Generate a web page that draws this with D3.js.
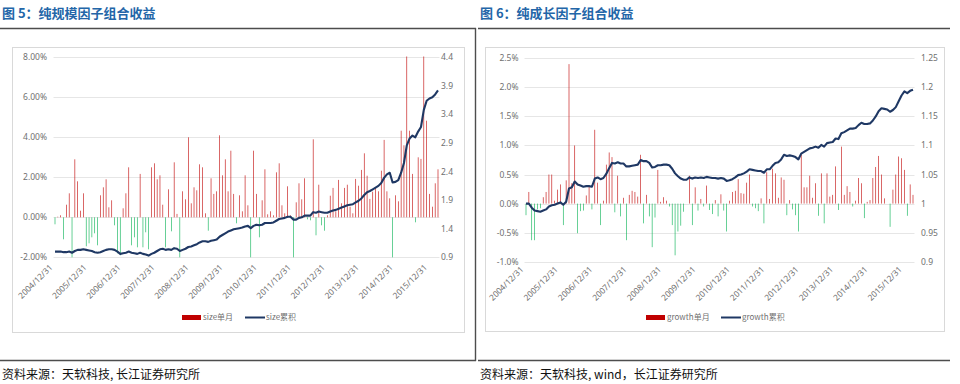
<!DOCTYPE html>
<html>
<head>
<meta charset="utf-8">
<script src="https://cdn.jsdelivr.net/npm/d3@7"></script>
<style>
  body { margin: 0; background: #fff; }
  svg { display: block; }
</style>
</head>
<body>
<svg id="chart" width="960" height="384"></svg>
<script>
// Data: month-end points from 2004/12/31, one label every 12 months
const tickLabels = ['2004/12/31', '2005/12/31', '2006/12/31', '2007/12/31', '2008/12/31', '2009/12/31',
  '2010/12/31', '2011/12/31', '2012/12/31', '2013/12/31', '2014/12/31', '2015/12/31'];

// size factor, monthly return (%)
const sizeMonthly = [
  -0.35, 0.03, 0.1, -1.1, 0.63, 1.2, -2.0, 2.9, 1.8, 0.33, 1.2, -1.45,
  -1.3, -1.0, -0.8, -1.4, 1.1, 1.5, 1.9, 0.5, 0.85, -0.4, -1.8, -1.9,
  0.45, 1.2, 2.5, -1.4, -1.0, -1.5, 2.17, -1.5, -0.75, -1.6, 2.5, 2.7,
  1.9, 2.1, 0.63, -1.5, 1.4, -0.7, 2.75, 0.17, -2.0, 1.3, 0.9, 4.0,
  0.7, 1.5, 1.35, 2.65, 2.5, 0.2, -0.67, 1.95, 1.17, 1.3, 4.1, 2.1,
  2.9, 1.3, 3.33, 1.17, -0.3, 1.1, 0.3, 2.1, 0.6, -2.0, 3.33, 1.17,
  -1.0, 0.85, 2.4, 0.15, 0.3, 0.1, 2.25, 2.7, 0.6, 0.2, 1.55, 0.1,
  -2.0, 0.75, 1.7, 0.9, 1.95, -0.1, -0.15, 3.9, -0.9, 1.63, -0.4, -0.67,
  0.1, 1.08, 1.47, 0.3, 1.87, 0.7, 1.47, 1.63, 0.53, 0.2, 1.92, 1.58,
  2.37, 3.2, 2.08, 0.92, 1.28, 1.5, 1.3, 2.33, 3.87, 1.3, 0.95, -2.0,
  1.1, 0.8, 4.33, 3.6, 8.05, 4.33, 2.17, -0.25, 3.0, 2.92, 8.05, 4.83,
  1.17, 0.53, 1.7, 2.4
];

// size factor, cumulative value
const sizeCum = [
  1.00, 1.00, 1.00, 0.99, 0.99, 1.00, 0.98, 1.01, 1.03, 1.03, 1.04, 1.03,
  1.02, 1.01, 0.99, 0.98, 0.99, 1.01, 1.03, 1.04, 1.04, 1.03, 1.00, 0.96,
  0.97, 0.98, 1.00, 0.98, 0.97, 0.96, 0.98, 0.96, 0.95, 0.93, 0.96, 0.98,
  1.01, 1.04, 1.05, 1.03, 1.04, 1.03, 1.06, 1.05, 1.01, 1.03, 1.05, 1.08,
  1.09, 1.11, 1.13, 1.16, 1.18, 1.18, 1.17, 1.19, 1.20, 1.21, 1.26, 1.29,
  1.32, 1.35, 1.37, 1.39, 1.40, 1.41, 1.42, 1.44, 1.45, 1.41, 1.45, 1.47,
  1.46, 1.47, 1.50, 1.50, 1.50, 1.51, 1.54, 1.57, 1.58, 1.59, 1.61, 1.61,
  1.56, 1.56, 1.59, 1.60, 1.63, 1.63, 1.63, 1.69, 1.68, 1.70, 1.69, 1.68,
  1.68, 1.70, 1.72, 1.73, 1.75, 1.77, 1.79, 1.81, 1.82, 1.83, 1.86, 1.89,
  1.93, 1.99, 2.04, 2.06, 2.09, 2.12, 2.15, 2.20, 2.29, 2.35, 2.38, 2.21,
  2.22, 2.25, 2.38, 2.55, 2.86, 2.98, 3.03, 3.00, 3.10, 3.18, 3.48, 3.64,
  3.68, 3.70, 3.75, 3.82
];

// growth factor, monthly return (%)
const growthMonthly = [
  -0.2, 0.2, -0.63, -0.63, -0.1, -0.08, 0.11, 0.2, 0.5, 0.5, 0.05, 0.24,
  0.33, -0.37, 0.4, 2.4, 0.35, 1.0, -0.51, -0.13, -0.12, 0.14, 0.29, -0.1,
  1.27, 0.36, -0.37, 0.05, 0.67, 0.88, 0.8, -0.15, 0.48, -0.22, 0.1, -0.63,
  0.15, 0.22, 0.2, 0.12, 0.84, -0.34, 0.15, -0.22, -0.75, -0.24, 0.58, 0.03,
  0.11, 0.05, -0.05, -0.37, -0.89, -0.48, -0.38, -0.14, 0.0, 0.48, -0.37, 0.28,
  -0.12, 0.08, -0.05, 0.31, -0.11, -0.18, 0.06, -0.22, 0.16, -0.12, -0.48, 0.05,
  0.2, 0.22, 0.42, 0.18, 0.17, 0.36, 0.5, -0.05, -0.08, -0.13, 0.09, -0.34,
  0.54, 0.08, 0.6, 0.52, 0.1, 0.45, 0.41, -0.2, 0.06, -0.1, -0.2, -0.48,
  0.84, 0.28, 0.28, 0.48, 0.1, 0.35, -0.21, 0.52, -0.34, 0.52, 0.12, 0.15,
  0.64, -0.11, 0.98, 0.15, 0.3, 0.2, -0.05, 0.05, 0.44, 0.35, -0.25, 0.03,
  0.06, 0.44, 0.63, 0.82, 0.5, 0.09, 0.0, -0.4, 0.24, 0.5, 0.81, 0.78,
  0.58, -0.21, 0.33, 0.15
];

// growth factor, cumulative value
const growthCum = [
  1.000, 1.000, 0.993, 0.988, 0.987, 0.986, 0.988, 0.990, 0.995, 0.997, 0.998, 1.000,
  1.002, 0.998, 1.003, 1.026, 1.028, 1.038, 1.033, 1.031, 1.029, 1.030, 1.030, 1.029,
  1.043, 1.045, 1.042, 1.044, 1.051, 1.061, 1.070, 1.069, 1.071, 1.069, 1.069, 1.064,
  1.064, 1.065, 1.066, 1.067, 1.075, 1.073, 1.073, 1.070, 1.062, 1.063, 1.066, 1.066,
  1.067, 1.067, 1.066, 1.060, 1.052, 1.047, 1.043, 1.041, 1.041, 1.045, 1.043, 1.045,
  1.044, 1.045, 1.044, 1.046, 1.045, 1.044, 1.044, 1.043, 1.044, 1.043, 1.039, 1.040,
  1.042, 1.045, 1.049, 1.050, 1.052, 1.055, 1.059, 1.058, 1.057, 1.056, 1.056, 1.053,
  1.059, 1.059, 1.065, 1.070, 1.071, 1.076, 1.084, 1.082, 1.083, 1.082, 1.080, 1.076,
  1.086, 1.089, 1.092, 1.095, 1.096, 1.098, 1.096, 1.101, 1.098, 1.104, 1.105, 1.106,
  1.112, 1.111, 1.121, 1.123, 1.126, 1.129, 1.129, 1.130, 1.135, 1.139, 1.137, 1.137,
  1.138, 1.143, 1.150, 1.159, 1.164, 1.163, 1.162, 1.158, 1.161, 1.166, 1.176, 1.186,
  1.193, 1.190, 1.194, 1.196
];

// axis ticks
const sizeLeftTicks = [-2, 0, 2, 4, 6, 8];
const sizeRightTicks = [0.9, 1.4, 1.9, 2.4, 2.9, 3.4, 3.9, 4.4];
const growthLeftTicks = [-1, -0.5, 0, 0.5, 1, 1.5, 2, 2.5];
const growthRightTicks = [0.9, 0.95, 1, 1.05, 1.1, 1.15, 1.2, 1.25];

// Constants
const cjk = '"Noto Sans CJK SC", "Noto Sans", sans-serif';
const latin = '"Noto Sans", "Open Sans", sans-serif';
const red = '#c00000';
const green = '#00b050';
const navy = '#1f3864';
const labelColor = '#707070';

const svg = d3.select('#chart');

const panels = [
  {
    title: '图 5：纯规模因子组合收益',
    source: '资料来源：天软科技, 长江证券研究所',
    left: 0, right: 475,
    frame: { x0: 12.5, y0: 47.5, x1: 464.5, y1: 332.5 },
    xRange: [55, 438],
    yTop: 57.3, yBottom: 257.3,
    monthly: sizeMonthly, cum: sizeCum,
    leftTicks: sizeLeftTicks, rightTicks: sizeRightTicks,
    leftFmt: d => d.toFixed(2) + '%',
    rightFmt: d => String(+d.toFixed(2)),
    leftLabelX: 47, rightLabelX: 441,
    xLabelY: 268,
    legendX: 182, legendName: 'size',
    divider: true
  },
  {
    title: '图 6：纯成长因子组合收益',
    source: '资料来源：天软科技, wind，长江证券研究所',
    left: 478, right: 950,
    frame: { x0: 485.5, y0: 47.5, x1: 944.5, y1: 331.5 },
    xRange: [526, 913],
    yTop: 58.3, yBottom: 261.7,
    monthly: growthMonthly, cum: growthCum,
    leftTicks: growthLeftTicks, rightTicks: growthRightTicks,
    leftFmt: d => d.toFixed(1) + '%',
    rightFmt: d => String(+d.toFixed(2)),
    leftLabelX: 518.5, rightLabelX: 921,
    xLabelY: 270,
    legendX: 646, legendName: 'growth',
    divider: false
  }
];

panels.forEach((p, pi) => {
  const g = svg.append('g');

  // Title and frame lines of the report layout
  g.append('text')
    .attr('x', p.left + 2)
    .attr('y', 18)
    .attr('font-family', cjk)
    .attr('font-size', '13px')
    .attr('font-weight', 'bold')
    .attr('fill', '#2366a8')
    .text(p.title);

  g.append('line')
    .attr('x1', p.left).attr('x2', p.right + (p.divider ? 1 : 0))
    .attr('y1', 28.5).attr('y2', 28.5)
    .attr('stroke', '#4d4d4d').attr('stroke-width', 1.4);

  g.append('line')
    .attr('x1', p.left).attr('x2', p.right + (p.divider ? 1 : 0))
    .attr('y1', 360.5).attr('y2', 360.5)
    .attr('stroke', '#4d4d4d').attr('stroke-width', 1.4);

  if (p.divider) {
    g.append('line')
      .attr('x1', p.right + 0.5).attr('x2', p.right + 0.5)
      .attr('y1', 28).attr('y2', 361)
      .attr('stroke', '#4d4d4d').attr('stroke-width', 1.4);
  }

  g.append('text')
    .attr('x', p.left + 2)
    .attr('y', 379)
    .attr('font-family', cjk)
    .attr('font-size', '12px')
    .attr('fill', '#111')
    .text(p.source);

  // Chart area border
  g.append('rect')
    .attr('x', p.frame.x0).attr('y', p.frame.y0)
    .attr('width', p.frame.x1 - p.frame.x0)
    .attr('height', p.frame.y1 - p.frame.y0)
    .attr('fill', 'none')
    .attr('stroke', '#d9d9d9');

  // Scales
  const n = p.monthly.length;
  const x = d3.scaleLinear().domain([0, n - 1]).range(p.xRange);
  const yL = d3.scaleLinear()
    .domain([p.leftTicks[0], p.leftTicks[p.leftTicks.length - 1]])
    .range([p.yBottom, p.yTop]);
  const yR = d3.scaleLinear()
    .domain([p.rightTicks[0], p.rightTicks[p.rightTicks.length - 1]])
    .range([p.yBottom, p.yTop]);

  const gridX0 = p.xRange[0] - 1.5;
  const gridX1 = p.xRange[1] + 1.5;

  // Gridlines
  g.append('g')
    .selectAll('line')
    .data(p.leftTicks)
    .enter()
    .append('line')
    .attr('x1', gridX0).attr('x2', gridX1)
    .attr('y1', d => Math.round(yL(d)) + 0.5)
    .attr('y2', d => Math.round(yL(d)) + 0.5)
    .attr('stroke', '#e6e6e6');

  // Left axis labels
  g.append('g')
    .selectAll('text')
    .data(p.leftTicks)
    .enter()
    .append('text')
    .attr('x', p.leftLabelX)
    .attr('y', d => yL(d))
    .attr('dy', '0.35em')
    .attr('text-anchor', 'end')
    .attr('font-family', latin)
    .attr('font-size', '8.5px')
    .attr('fill', labelColor)
    .text(p.leftFmt);

  // Right axis labels
  g.append('g')
    .selectAll('text')
    .data(p.rightTicks)
    .enter()
    .append('text')
    .attr('x', p.rightLabelX)
    .attr('y', d => yR(d))
    .attr('dy', '0.35em')
    .attr('font-family', latin)
    .attr('font-size', '8.5px')
    .attr('fill', labelColor)
    .text(p.rightFmt);

  // Bars (monthly), thin so most land between pixels and render pale
  const clipId = 'clip' + pi;
  g.append('clipPath').attr('id', clipId)
    .append('rect')
    .attr('x', gridX0).attr('y', p.yTop - 1)
    .attr('width', gridX1 - gridX0).attr('height', p.yBottom - p.yTop + 2);

  g.append('g')
    .attr('clip-path', `url(#${clipId})`)
    .selectAll('rect')
    .data(p.monthly)
    .enter()
    .append('rect')
    .attr('x', (d, i) => x(i) - 0.3)
    .attr('width', 0.6)
    .attr('y', d => Math.min(yL(d), yL(0)))
    .attr('height', d => Math.abs(yL(d) - yL(0)))
    .attr('fill', d => d >= 0 ? red : green);

  // Cumulative line
  const line = d3.line()
    .x((d, i) => x(i))
    .y(d => yR(d));

  g.append('path')
    .datum(p.cum)
    .attr('d', line)
    .attr('fill', 'none')
    .attr('stroke', navy)
    .attr('stroke-width', 2.1)
    .attr('stroke-linejoin', 'round');

  // X labels, rotated
  g.append('g')
    .selectAll('text')
    .data(tickLabels)
    .enter()
    .append('text')
    .attr('transform', (d, k) => `translate(${x(k * 12) - 2},${p.xLabelY}) rotate(-45)`)
    .attr('text-anchor', 'end')
    .attr('font-family', latin)
    .attr('font-size', '8.3px')
    .attr('fill', labelColor)
    .text(d => d);

  // Legend
  const ly = 317.5;
  g.append('rect')
    .attr('x', p.legendX).attr('y', ly - 2.5)
    .attr('width', 19).attr('height', 5)
    .attr('fill', red);

  g.append('text')
    .attr('x', p.legendX + 21).attr('y', ly)
    .attr('dy', '0.35em')
    .attr('font-family', cjk)
    .attr('font-size', '8px')
    .attr('fill', labelColor)
    .text(p.legendName + '单月');

  const lx = p.legendX + (p.legendName === 'size' ? 63 : 75);
  g.append('line')
    .attr('x1', lx).attr('x2', lx + 20)
    .attr('y1', ly).attr('y2', ly)
    .attr('stroke', navy).attr('stroke-width', 2);

  g.append('text')
    .attr('x', lx + 21).attr('y', ly)
    .attr('dy', '0.35em')
    .attr('font-family', cjk)
    .attr('font-size', '8px')
    .attr('fill', labelColor)
    .text(p.legendName + '累积');
});
</script>
</body>
</html>
